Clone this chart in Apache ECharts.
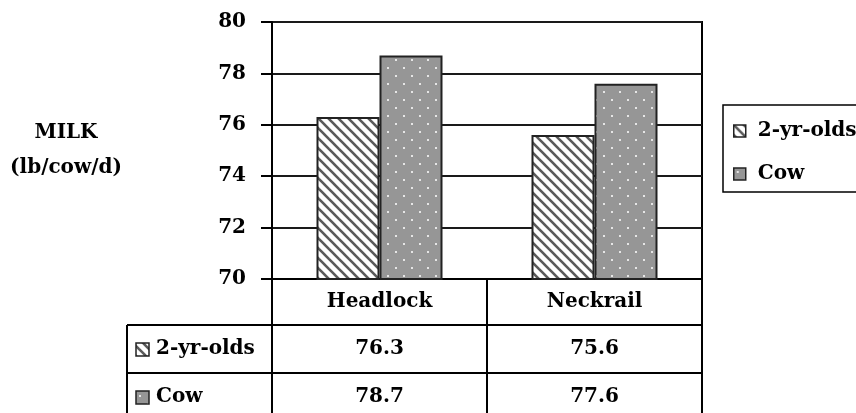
<!DOCTYPE html>
<html><head><meta charset="utf-8">
<script src="https://cdn.jsdelivr.net/npm/echarts@6/dist/echarts.min.js"></script>
<style>html,body{margin:0;padding:0;background:#fff}#c{width:856px;height:413px}</style>
</head><body><div id="c"></div><script>
// ---- data ----
const categories = ['Headlock', 'Neckrail'];
const seriesNames = ['2-yr-olds', 'Cow'];
const twoYrOlds = [76.3, 75.6];
const cow = [78.7, 77.6];
const yMin = 70, yMax = 80, yInterval = 2;
const yAxisName = 'MILK\n(lb/cow/d)';

// ---- styles ----
const FONT = 'DejaVu Serif';
function stripeCanvas() {
  const P = 10;
  const c = document.createElement('canvas'); c.width = P; c.height = P;
  const g = c.getContext('2d');
  g.fillStyle = '#fff'; g.fillRect(0, 0, P, P);
  g.strokeStyle = '#5a5a5a'; g.lineWidth = 2.6;
  for (const x0 of [-P, 0, P]) { g.beginPath(); g.moveTo(x0 - 2, -2); g.lineTo(x0 + P + 2, P + 2); g.stroke(); }
  return c;
}
function dotCanvas() {
  const c = document.createElement('canvas'); c.width = 16; c.height = 16;
  const g = c.getContext('2d');
  g.fillStyle = '#969696'; g.fillRect(0, 0, 16, 16);
  g.fillStyle = '#e6e6e6'; g.fillRect(3, 3, 2, 2); g.fillRect(11, 11, 2, 2);
  return c;
}
const fills = [{ image: stripeCanvas(), repeat: 'repeat' }, { image: dotCanvas(), repeat: 'repeat' }];
const seriesData = [twoYrOlds, cow];

const G = { left: 272, right: 702, top: 22, bottom: 279 };
const tableLeft = 127, rowLines = [325, 373], tableBottom = 420;
const rowCenters = [349, 397];
const FS = 20;
const txt = { fontFamily: FONT, fontWeight: 'bold', fontSize: FS, color: '#000' };

const chart = echarts.init(document.getElementById('c'), null, { renderer: 'canvas' });
const graphic = [];
rowLines.forEach(y => graphic.push({ type: 'line', shape: { x1: tableLeft, y1: y, x2: G.right, y2: y }, style: { stroke: '#000', lineWidth: 2 } }));
graphic.push({ type: 'line', shape: { x1: tableLeft, y1: rowLines[0], x2: tableLeft, y2: tableBottom }, style: { stroke: '#000', lineWidth: 2 } });
seriesNames.forEach((n, i) => {
  graphic.push({ type: 'rect', shape: { x: 136, y: rowCenters[i] - 6, width: 13, height: 13 }, style: { fill: fills[i], stroke: '#222', lineWidth: 1.5 } });
  graphic.push({ type: 'text', x: 156, y: rowCenters[i], style: { text: n, fill: '#000', font: 'bold ' + FS + 'px "' + FONT + '"', verticalAlign: 'middle', align: 'left' } });
});

const valueAxes = seriesData.map((arr, i) => ({
  type: 'category', gridIndex: 0, position: 'bottom', offset: rowLines[i] - G.bottom,
  data: arr.map(v => v.toFixed(1)),
  axisLine: { show: false }, axisTick: { show: false }, splitLine: { show: false },
  axisLabel: Object.assign({ margin: 14, interval: 0 }, txt)
}));

chart.setOption({
  animation: false,
  backgroundColor: '#fff',
  grid: { left: G.left, right: 856 - G.right, top: G.top, bottom: 413 - G.bottom, show: true, borderColor: '#000', borderWidth: 2, containLabel: false, outerBoundsMode: 'none' },
  legend: {
    orient: 'vertical', left: 723, top: 105, padding: [16, 40, 8, 10],
    itemWidth: 12, itemHeight: 12, itemGap: 23, selectedMode: false, icon: 'rect',
    borderColor: '#000', borderWidth: 1.5, borderRadius: 0,
    itemStyle: { borderWidth: 1.5, borderColor: '#222' },
    textStyle: Object.assign({ padding: [0, 0, 0, 7] }, txt),
    data: seriesNames
  },
  xAxis: [{
    type: 'category', data: categories,
    axisLine: { show: true, lineStyle: { color: '#000', width: 2 } },
    axisTick: { show: true, length: 140, lineStyle: { color: '#000', width: 2 } },
    axisLabel: Object.assign({ margin: 13 }, txt),
    splitLine: { show: false }
  }].concat(valueAxes),
  yAxis: {
    type: 'value', min: yMin, max: yMax, interval: yInterval,
    name: yAxisName, nameLocation: 'middle', nameRotate: 0, nameGap: 206,
    nameTextStyle: Object.assign({ align: 'center', verticalAlign: 'middle', lineHeight: 35, padding: [0, 0, 4, 0] }, txt),
    axisLine: { show: true, lineStyle: { color: '#000', width: 2 } },
    axisTick: { show: true, inside: false, length: 11, lineStyle: { color: '#000', width: 2 } },
    axisLabel: Object.assign({ margin: 26 }, txt),
    splitLine: { show: true, lineStyle: { color: '#1a1a1a', width: 2 } }
  },
  series: seriesNames.map((n, i) => ({
    type: 'bar', name: n, data: seriesData[i], barWidth: 63, barGap: '0%',
    itemStyle: { color: fills[i], borderColor: '#222', borderWidth: 2 }
  })),
  graphic: graphic
});
</script></body></html>
